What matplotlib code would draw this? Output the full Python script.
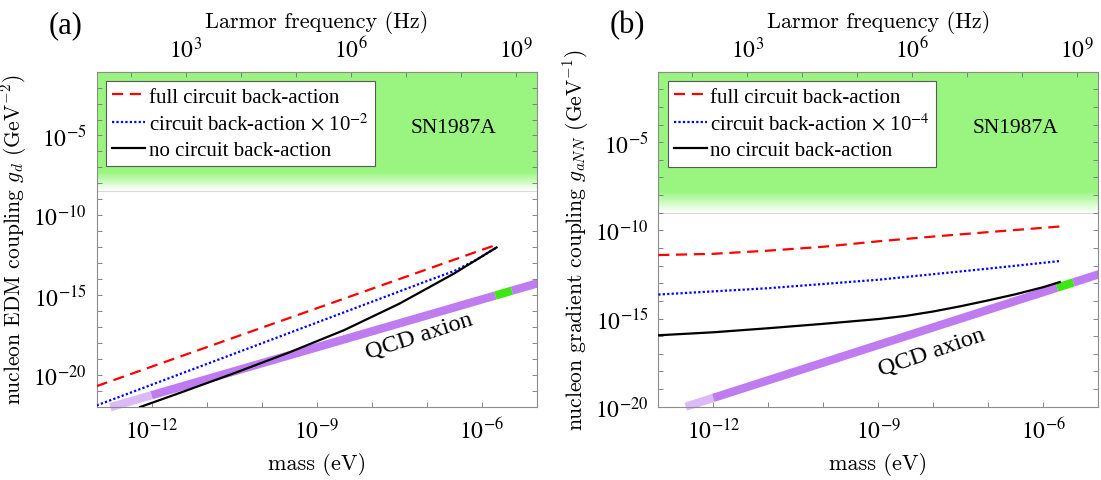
import matplotlib
matplotlib.use("Agg")
import matplotlib.pyplot as plt
import numpy as np
from matplotlib.ticker import FixedLocator, FuncFormatter, NullFormatter

plt.rcParams["font.family"] = ["Liberation Serif", "DejaVu Serif"]
plt.rcParams["mathtext.fontset"] = "stix"

H_EV_S = 4.135667e-15  # Planck constant in eV s, mass -> Larmor frequency

# ---- panel (a): nucleon EDM coupling g_d (GeV^-2) ----
a_full_m = 10.0 ** np.array([-13.0, -9.49, -5.79])
a_full_g = 10.0 ** np.array([-20.71, -16.43, -11.92])
a_scaled_m = 10.0 ** np.array([-13.0, -9.9, -6.9, -6.5, -6.1, -5.73])
a_scaled_g = 10.0 ** np.array([-21.92, -17.9, -14.0, -13.5, -12.8, -12.02])
a_none_m = 10.0 ** np.array([-12.21, -11.5, -10.5, -9.5, -8.5, -7.5, -6.5, -5.73])
a_none_g = 10.0 ** np.array([-22.02, -21.15, -19.90, -18.60, -17.20, -15.55, -13.65, -12.02])
a_qcd_m = 10.0 ** np.array([-12.75, -12.0, -5.75, -5.45, -4.8])
a_qcd_g = 10.0 ** np.array([-22.03, -21.28, -15.03, -14.73, -14.08])
a_sn_fade, a_sn_limit = 10.0 ** -7.3, 10.0 ** -8.45

# ---- panel (b): nucleon gradient coupling g_aNN (GeV^-1) ----
b_full_m = 10.0 ** np.array([-13.0, -12.0, -11.0, -10.0, -9.0, -8.0, -7.0, -5.70])
b_full_g = 10.0 ** np.array([-11.40, -11.33, -11.15, -10.93, -10.62, -10.35, -10.10, -9.78])
b_scaled_m = 10.0 ** np.array([-13.0, -11.0, -9.0, -7.0, -5.70])
b_scaled_g = 10.0 ** np.array([-13.64, -13.28, -12.80, -12.17, -11.74])
b_none_m = 10.0 ** np.array([-13.0, -12.0, -11.0, -10.0, -9.0, -8.5, -8.0, -7.5, -7.0, -6.5, -6.0, -5.70])
b_none_g = 10.0 ** np.array([-15.95, -15.78, -15.55, -15.30, -15.03, -14.85, -14.60, -14.30,
                             -13.97, -13.62, -13.22, -12.93])
b_qcd_m = 10.0 ** np.array([-12.5, -12.0, -5.75, -5.45, -4.8])
b_qcd_g = 10.0 ** np.array([-20.0, -19.5, -13.25, -12.95, -12.3])
b_sn_fade, b_sn_limit = 10.0 ** -7.8, 10.0 ** -9.0

legend_labels = ["full circuit back-action", "circuit back-action $\\times$ 10$^{-%d}$",
                 "no circuit back-action"]

GREEN = np.array([0.60, 0.96, 0.50])
PURPLE = "#bf7cf0"
PURPLE_LIGHT = "#dbbaf6"
QCD_GREEN = "#3ae614"


def fmt_pow(v, pos):
    return "$10^{%d}$" % int(round(np.log10(v)))


def draw_panel(ax, d, ylim, yexp, scale_exp, qcd_xy, qcd_rot, sn_xy, ylabel, tag):
    xlim = (1e-13, 1e-5)
    ax.set_xscale("log")
    ax.set_yscale("log")
    ax.set_xlim(*xlim)
    ax.set_ylim(*ylim)

    # SN1987A excluded region with a soft lower edge
    ax.fill_between(xlim, d["fade"], ylim[1], color=GREEN, lw=0, zorder=0)
    edges = np.logspace(np.log10(d["limit"]), np.log10(d["fade"]), 41)
    for i in range(40):
        t = 1 - (i + 0.5) / 40
        c = GREEN * (1 - t) + np.ones(3) * t
        ax.fill_between(xlim, edges[i], edges[i + 1], color=c, lw=0, zorder=0)
    ax.axhline(d["limit"], color="0.85", lw=0.8, zorder=0.5)

    # QCD axion band
    qm, qg = d["qcd_m"], d["qcd_g"]
    ax.plot(qm[:2], qg[:2], color=PURPLE_LIGHT, lw=6, solid_capstyle="butt", clip_on=False, zorder=1)
    ax.plot(qm[1:3], qg[1:3], color=PURPLE, lw=6, solid_capstyle="butt", zorder=1)
    ax.plot(qm[2:4], qg[2:4], color=QCD_GREEN, lw=6, solid_capstyle="butt", zorder=1)
    ax.plot(qm[3:], qg[3:], color=PURPLE, lw=6, solid_capstyle="butt", zorder=1)

    ax.plot(d["full_m"], d["full_g"], color="red", ls=(0, (5, 3)), lw=1.6,
            label=legend_labels[0], zorder=3)
    ax.plot(d["scaled_m"], d["scaled_g"], color="blue", ls=(0, (1, 1)), lw=1.6,
            label=legend_labels[1] % scale_exp, zorder=3)
    ax.plot(d["none_m"], d["none_g"], color="black", lw=1.6,
            label=legend_labels[2], zorder=4)

    ax.text(*qcd_xy, "QCD axion", rotation=qcd_rot, ha="center", va="center", fontsize=17.5)
    ax.text(*sn_xy, "SN1987A", ha="center", va="center", fontsize=15.5)

    leg = ax.legend(loc="upper left", bbox_to_anchor=(0.021, 0.973), borderaxespad=0,
                    fontsize=15, frameon=True, fancybox=False, framealpha=1,
                    edgecolor="0.35", handlelength=1.6, handletextpad=0.15,
                    labelspacing=0.3, borderpad=0.3)
    leg.get_frame().set_linewidth(0.8)

    ax.xaxis.set_major_locator(FixedLocator([1e-12, 1e-9, 1e-6]))
    ax.xaxis.set_minor_locator(FixedLocator(10.0 ** np.arange(-13, -4)))
    ax.xaxis.set_major_formatter(FuncFormatter(fmt_pow))
    ax.xaxis.set_minor_formatter(NullFormatter())
    ax.yaxis.set_major_locator(FixedLocator(10.0 ** np.array(yexp)))
    ax.yaxis.set_minor_locator(FixedLocator(10.0 ** np.arange(-22, 0)))
    ax.yaxis.set_major_formatter(FuncFormatter(fmt_pow))
    ax.yaxis.set_minor_formatter(NullFormatter())
    ax.tick_params(which="both", direction="in", top=False, right=True,
                   length=3.5, width=0.6, color="0.45", labelsize=17)
    ax.tick_params(axis="x", which="both", pad=8)
    ax.tick_params(axis="y", which="both", pad=7)
    for s in ax.spines.values():
        s.set_color("0.55")
        s.set_linewidth(0.8)

    sec = ax.secondary_xaxis("top", functions=(lambda m: m / H_EV_S, lambda f: f * H_EV_S))
    sec.xaxis.set_major_locator(FixedLocator([1e3, 1e6, 1e9]))
    sec.xaxis.set_minor_locator(FixedLocator(10.0 ** np.arange(1, 11)))
    sec.xaxis.set_major_formatter(FuncFormatter(fmt_pow))
    sec.xaxis.set_minor_formatter(NullFormatter())
    sec.tick_params(which="both", direction="in", length=3.5, width=0.6,
                    color="0.45", labelsize=17, pad=7)
    sec.spines["top"].set_color("0.55")
    sec.spines["top"].set_linewidth(0.8)
    sec.set_xlabel("Larmor frequency (Hz)", fontfamily="cmr10", fontsize=16, labelpad=7)

    ax.set_xlabel("mass (eV)", fontfamily="cmr10", fontsize=16, labelpad=6)
    ax.set_ylabel(ylabel, fontfamily="cmr10", math_fontfamily="cm", fontsize=15.5, labelpad=3)
    ax.text(-0.07, 1.14, tag, transform=ax.transAxes, fontsize=22, ha="center", va="center")


fig = plt.figure(figsize=(11.01, 4.81), dpi=100)
ax_a = fig.add_axes([0.0878, 0.1524, 0.3996, 0.6965])
ax_b = fig.add_axes([0.5979, 0.1524, 0.3996, 0.6965])

draw_panel(ax_a,
           dict(full_m=a_full_m, full_g=a_full_g, scaled_m=a_scaled_m, scaled_g=a_scaled_g,
                none_m=a_none_m, none_g=a_none_g, qcd_m=a_qcd_m, qcd_g=a_qcd_g,
                fade=a_sn_fade, limit=a_sn_limit),
           ylim=(1e-22, 1e-1), yexp=[-20, -15, -10, -5], scale_exp=2,
           qcd_xy=(10 ** -7.13, 10 ** -17.5), qcd_rot=18, sn_xy=(10 ** -6.52, 10 ** -4.52),
           ylabel="nucleon EDM coupling $g_d$ (GeV$^{-2}$)", tag="(a)")

draw_panel(ax_b,
           dict(full_m=b_full_m, full_g=b_full_g, scaled_m=b_scaled_m, scaled_g=b_scaled_g,
                none_m=b_none_m, none_g=b_none_g, qcd_m=b_qcd_m, qcd_g=b_qcd_g,
                fade=b_sn_fade, limit=b_sn_limit),
           ylim=(1e-20, 1e-1), yexp=[-20, -15, -10, -5], scale_exp=4,
           qcd_xy=(10 ** -8.03, 10 ** -16.85), qcd_rot=19, sn_xy=(10 ** -6.51, 10 ** -4.19),
           ylabel="nucleon gradient coupling $g_{aNN}$ (GeV$^{-1}$)", tag="(b)")

fig.savefig("out.png", dpi=100)
